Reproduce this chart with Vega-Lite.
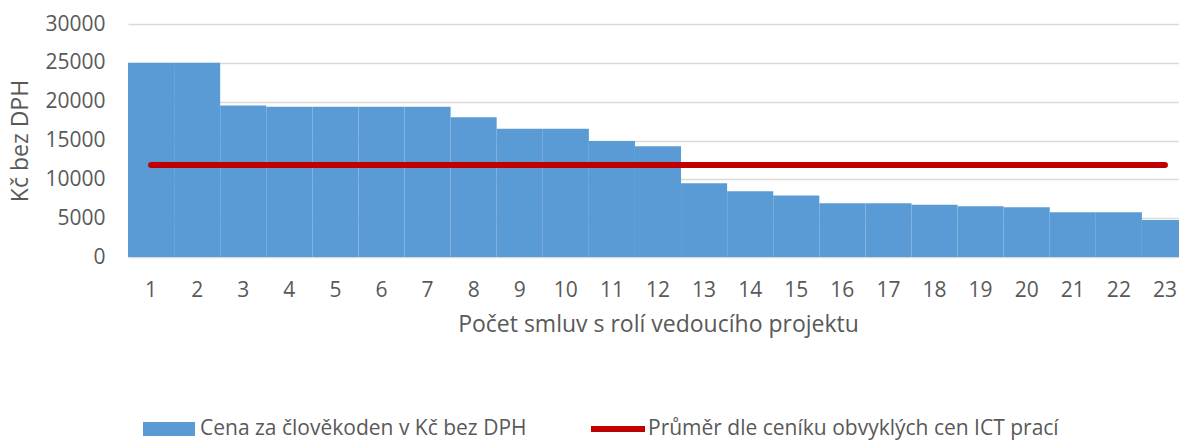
{
  "$schema": "https://vega.github.io/schema/vega-lite/v6.json",
  "autosize": {"type": "none"},
  "padding": {"left": 128, "top": 24, "right": 0, "bottom": 184},
  "width": 1051,
  "height": 233,
  "background": "white",
  "config": {
    "view": {"stroke": null},
    "font": "Open Sans",
    "axis": {"labelFont": "Open Sans", "titleFont": "Open Sans", "labelColor": "#595959", "titleColor": "#595959", "titleFontWeight": "normal"},
    "legend": {"labelFont": "Open Sans", "labelColor": "#595959", "labelFontSize": 21, "labelLimit": 600, "padding": 0, "title": null}
  },
  "data": {
    "values": [
      {"n": 1, "cena": 25000, "prumer": 11850},
      {"n": 2, "cena": 25000, "prumer": 11850},
      {"n": 3, "cena": 19500, "prumer": 11850},
      {"n": 4, "cena": 19350, "prumer": 11850},
      {"n": 5, "cena": 19350, "prumer": 11850},
      {"n": 6, "cena": 19350, "prumer": 11850},
      {"n": 7, "cena": 19350, "prumer": 11850},
      {"n": 8, "cena": 18000, "prumer": 11850},
      {"n": 9, "cena": 16500, "prumer": 11850},
      {"n": 10, "cena": 16500, "prumer": 11850},
      {"n": 11, "cena": 14950, "prumer": 11850},
      {"n": 12, "cena": 14250, "prumer": 11850},
      {"n": 13, "cena": 9480, "prumer": 11850},
      {"n": 14, "cena": 8450, "prumer": 11850},
      {"n": 15, "cena": 7930, "prumer": 11850},
      {"n": 16, "cena": 6930, "prumer": 11850},
      {"n": 17, "cena": 6930, "prumer": 11850},
      {"n": 18, "cena": 6720, "prumer": 11850},
      {"n": 19, "cena": 6520, "prumer": 11850},
      {"n": 20, "cena": 6420, "prumer": 11850},
      {"n": 21, "cena": 5760, "prumer": 11850},
      {"n": 22, "cena": 5760, "prumer": 11850},
      {"n": 23, "cena": 4750, "prumer": 11850}
    ]
  },
  "encoding": {
    "x": {
      "field": "n", "type": "ordinal", "sort": null,
      "scale": {"paddingInner": 0, "paddingOuter": 0, "range": [0, 1060]},
      "axis": {"labelAngle": 0, "ticks": false, "tickSize": 0, "domain": false, "grid": false, "labelFontSize": 21, "labelPadding": 22, "labelOverlap": false, "title": "Počet smluv s rolí vedoucího projektu", "titleFontSize": 23, "titlePadding": 13}
    }
  },
  "layer": [
    {
      "mark": {"type": "bar", "strokeWidth": 0},
      "encoding": {
        "y": {
          "field": "cena", "type": "quantitative",
          "scale": {"domain": [0, 30000], "nice": false},
          "axis": {"values": [0, 5000, 10000, 15000, 20000, 25000, 30000], "format": "d", "ticks": false, "tickSize": 0, "domain": false, "gridColor": "#D9D9D9", "gridWidth": 1.3, "labelFontSize": 21, "labelPadding": 23, "labelOverlap": false, "title": "Kč bez DPH", "titleFontSize": 23, "titlePadding": 12}
        },
        "fill": {
          "datum": "Cena za člověkoden v Kč bez DPH",
          "scale": {"range": ["#5B9BD5"]},
          "legend": {"orient": "none", "legendX": 15, "legendY": 379, "symbolType": "M-1,-0.27H1V0.27H-1Z", "symbolSize": 2704, "symbolStrokeWidth": 0, "symbolOpacity": 1, "labelOffset": 5}
        }
      }
    },
    {
      "mark": {"type": "line", "strokeWidth": 6, "strokeCap": "round"},
      "encoding": {
        "y": {
          "field": "prumer", "type": "quantitative",
          "axis": {"values": [0, 5000, 10000, 15000, 20000, 25000, 30000], "format": "d", "ticks": false, "tickSize": 0, "domain": false, "gridColor": "#D9D9D9", "gridWidth": 1.3, "labelFontSize": 21, "labelPadding": 23, "labelOverlap": false, "title": "Kč bez DPH", "titleFontSize": 23, "titlePadding": 12}
        },
        "stroke": {
          "datum": "Průměr dle ceníku obvyklých cen ICT prací",
          "scale": {"range": ["#C00000"]},
          "legend": {"orient": "none", "legendX": 460, "legendY": 375, "symbolType": "stroke", "symbolSize": 2916, "symbolStrokeWidth": 6, "labelOffset": 0}
        }
      }
    }
  ]
}
